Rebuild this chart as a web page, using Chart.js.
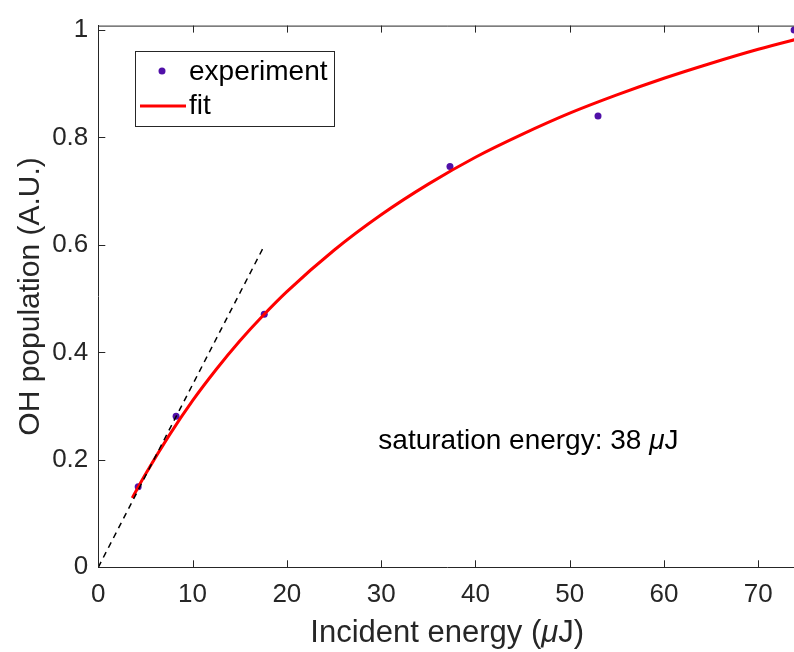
<!DOCTYPE html>
<html>
<head>
<meta charset="utf-8">
<script src="https://cdn.jsdelivr.net/npm/chart.js@4"></script>
<style>
  html, body { margin: 0; padding: 0; background: #fff; overflow: hidden; width: 794px; height: 652px; }
  canvas { display: block; }
</style>
</head>
<body>
<canvas id="satChart" width="800" height="652"></canvas>
<script>
const FONT = '"Liberation Sans", Arial, sans-serif';

// measured points
const expX = [4.23, 8.25, 17.6, 37.3, 53.0, 73.8];
const expY = [0.150, 0.281, 0.471, 0.746, 0.840, 1.0];

// fit curve
const fitX = [3.6, 5, 7.5, 10, 12.5, 15, 17.5, 20, 25, 30, 35, 40, 45, 50, 55, 60, 65, 70, 75];
const fitY = [0.129, 0.173, 0.245, 0.310, 0.368, 0.421, 0.469, 0.513, 0.590, 0.656, 0.713, 0.763, 0.806, 0.845, 0.879, 0.910, 0.938, 0.964, 0.987];

// linear (low energy) slope, dashed
const slopeX = [0, 17.65];
const slopeY = [0, 0.6];

const xTicks = [0, 10, 20, 30, 40, 50, 60, 70];
const yTicks = [0, 0.2, 0.4, 0.6, 0.8, 1];

const toXY = (xs, ys) => xs.map((x, i) => ({ x: x, y: ys[i] }));

const axisColor = '#262626';

// draws "text μ J" pieces with an italic mu, starting at x
function drawMuText(ctx, before, after, x, y, size, align) {
  ctx.font = size + 'px ' + FONT;
  const w1 = ctx.measureText(before).width;
  const w3 = ctx.measureText(after).width;
  ctx.font = 'italic ' + size + 'px ' + FONT;
  const w2 = ctx.measureText('\u03bc').width;
  let sx = align === 'center' ? x - (w1 + w2 + w3) / 2 : x;
  ctx.textAlign = 'left';
  ctx.font = size + 'px ' + FONT;
  ctx.fillText(before, sx, y);
  ctx.font = 'italic ' + size + 'px ' + FONT;
  ctx.fillText('\u03bc', sx + w1, y);
  ctx.font = size + 'px ' + FONT;
  ctx.fillText(after, sx + w1 + w2, y);
}

// inward ticks + top frame, legend box, annotation text, x title
const matlabStyle = {
  id: 'matlabStyle',
  afterDatasetsDraw(chart) {
    const { ctx, chartArea: a, scales: { x, y } } = chart;
    ctx.save();
    ctx.strokeStyle = axisColor;
    ctx.lineWidth = 1;
    ctx.beginPath();
    ctx.moveTo(a.left, a.top + 0.5);
    ctx.lineTo(a.right, a.top + 0.5);
    xTicks.forEach(v => {
      const px = Math.round(x.getPixelForValue(v)) + 0.5;
      ctx.moveTo(px, a.bottom);
      ctx.lineTo(px, a.bottom - 7);
      ctx.moveTo(px, a.top);
      ctx.lineTo(px, a.top + 7);
    });
    yTicks.forEach(v => {
      const py = Math.round(y.getPixelForValue(v)) + 0.5;
      ctx.moveTo(a.left, py);
      ctx.lineTo(a.left + 7, py);
    });
    ctx.stroke();

    // legend
    ctx.fillStyle = '#fff';
    ctx.fillRect(135.5, 51.5, 199, 75);
    ctx.strokeStyle = axisColor;
    ctx.strokeRect(135.5, 51.5, 199, 75);
    ctx.fillStyle = '#5010a8';
    ctx.beginPath();
    ctx.arc(162, 71, 3.5, 0, Math.PI * 2);
    ctx.fill();
    ctx.strokeStyle = '#ff0000';
    ctx.lineWidth = 3;
    ctx.beginPath();
    ctx.moveTo(140, 106);
    ctx.lineTo(186, 106);
    ctx.stroke();
    ctx.fillStyle = '#000';
    ctx.font = '28px ' + FONT;
    ctx.textBaseline = 'middle';
    ctx.textAlign = 'left';
    ctx.fillText('experiment', 189, 72);
    ctx.fillText('fit', 189, 106);

    // annotation
    drawMuText(ctx, 'saturation energy: 38 ', 'J',
      x.getPixelForValue(29.7), y.getPixelForValue(0.235), 28, 'left');

    // x axis title
    ctx.fillStyle = axisColor;
    drawMuText(ctx, 'Incident energy (', 'J)', (a.left + a.right) / 2, 633, 31, 'center');
    ctx.restore();
  }
};

new Chart(document.getElementById('satChart'), {
  type: 'line',
  data: {
    datasets: [{
      label: 'experiment',
      data: toXY(expX, expY),
      showLine: false,
      pointRadius: 3.5,
      pointBackgroundColor: '#5010a8',
      pointBorderWidth: 0,
      order: 3
    }, {
      label: 'fit',
      data: toXY(fitX, fitY),
      borderColor: '#ff0000',
      borderWidth: 3,
      pointRadius: 0,
      cubicInterpolationMode: 'monotone',
      order: 2
    }, {
      label: 'slope',
      data: toXY(slopeX, slopeY),
      borderColor: '#000',
      borderWidth: 1.5,
      borderDash: [6, 5],
      pointRadius: 0,
      order: 1
    }]
  },
  options: {
    responsive: false,
    animation: false,
    layout: { padding: { top: 21.5, right: 2.5, left: 0, bottom: 0 } },
    plugins: { legend: { display: false }, tooltip: { enabled: false } },
    scales: {
      x: {
        type: 'linear',
        min: 0,
        max: 74,
        afterFit: s => { s.height = 84.7; },
        afterBuildTicks: s => { s.ticks = xTicks.map(v => ({ value: v })); },
        grid: { display: false, drawTicks: false },
        border: { display: true, color: axisColor, width: 1 },
        ticks: {
          padding: 12,
          color: axisColor,
          font: { family: FONT, size: 26 },
          callback: v => String(v)
        },
        title: { display: false }
      },
      y: {
        type: 'linear',
        min: 0,
        max: 1.008,
        afterFit: s => { s.width = 98.3; },
        afterBuildTicks: s => { s.ticks = yTicks.map(v => ({ value: v })); },
        grid: { display: false, drawTicks: false },
        border: { display: true, color: axisColor, width: 1 },
        ticks: {
          padding: 10,
          color: axisColor,
          font: { family: FONT, size: 26 },
          callback: v => String(v)
        },
        title: {
          display: true,
          text: 'OH population (A.U.)',
          color: axisColor,
          font: { family: FONT, size: 30 },
          padding: { top: 13, bottom: 0 }
        }
      }
    }
  },
  plugins: [matlabStyle]
});
</script>
</body>
</html>
